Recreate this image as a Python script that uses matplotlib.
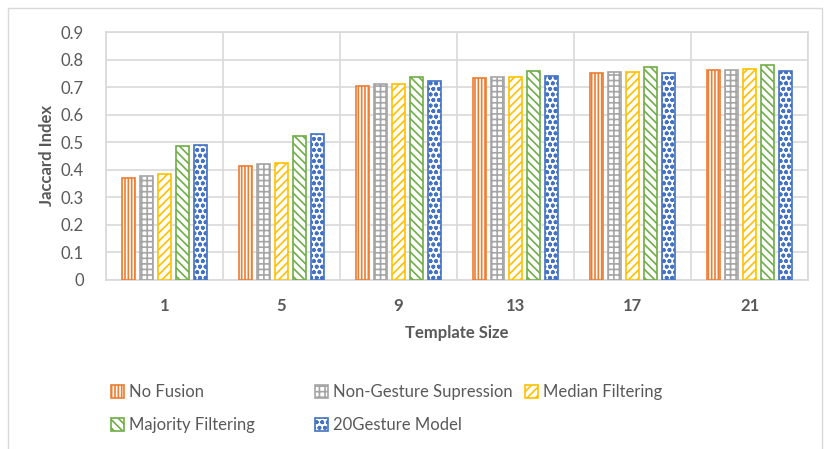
import matplotlib.pyplot as plt
import numpy as np
from matplotlib.patches import Rectangle

plt.rcParams['font.family'] = ['Lato', 'DejaVu Sans']
plt.rcParams['hatch.linewidth'] = 1.2

sizes = ['1', '5', '9', '13', '17', '21']
series = ['No Fusion', 'Non-Gesture Supression', 'Median Filtering',
          'Majority Filtering', '20Gesture Model']
no_fusion = [0.371, 0.415, 0.704, 0.733, 0.751, 0.762]
non_gesture = [0.377, 0.421, 0.710, 0.735, 0.754, 0.762]
median_filt = [0.383, 0.426, 0.710, 0.735, 0.754, 0.765]
majority_filt = [0.486, 0.524, 0.737, 0.758, 0.772, 0.779]
gesture20 = [0.489, 0.531, 0.722, 0.740, 0.751, 0.757]

values = [no_fusion, non_gesture, median_filt, majority_filt, gesture20]
colors = ['#ED7D31', '#A5A5A5', '#FFC000', '#70AD47', '#4472C4']
hatches = ['|||||', '+++', '////', '\\\\\\\\', 'ooo']

fig = plt.figure(figsize=(8.25, 4.49), dpi=100)
ax = fig.add_axes([106 / 825, 1 - 280 / 449, 702 / 825, 248 / 449])

x = np.arange(len(sizes))
pitch = 0.153
width = 0.114
bars = []
for i, (name, vals) in enumerate(zip(series, values)):
    b = ax.bar(x + (i - 2) * pitch, vals, width, label=name, facecolor='white',
               edgecolor=colors[i], hatch=hatches[i], linewidth=1.2, zorder=3)
    bars.append(b)

ax.set_xlim(-0.5, len(sizes) - 0.5)
ax.set_ylim(0, 0.9)
ax.set_yticks(np.arange(0, 0.91, 0.1))
ax.set_yticklabels(['0'] + [f'{v:.1f}' for v in np.arange(0.1, 0.91, 0.1)])
ax.set_xticks(x)
ax.set_xticklabels(sizes, fontweight='bold')
ax.set_xticks(np.arange(-0.5, len(sizes)), minor=True)
ax.grid(True, axis='y', color='#D9D9D9', linewidth=1.2, zorder=0)
ax.grid(True, axis='x', which='minor', color='#D9D9D9', linewidth=1.2, zorder=0)
ax.tick_params(axis='both', which='both', length=0, colors='#595959', labelsize=12)
ax.tick_params(axis='x', pad=13)
ax.tick_params(axis='y', pad=16)
for s in ax.spines.values():
    s.set_color('#D9D9D9')
    s.set_linewidth(1.2)

ax.set_xlabel('Template Size', fontweight='bold', color='#595959', fontsize=12, labelpad=8)
ax.set_ylabel('Jaccard Index', fontweight='bold', color='#595959', fontsize=12, labelpad=4)

# legend entries laid out row by row on a fixed grid, like the original
leg_x = [111, 315, 525, 111, 315]
leg_y = [392, 392, 392, 425, 425]
for i, name in enumerate(series):
    leg = fig.legend([bars[i]], [name], loc='center left',
                     bbox_to_anchor=(leg_x[i] / 825, 1 - leg_y[i] / 449),
                     frameon=False, fontsize=12, handlelength=0.8, handleheight=0.8,
                     handletextpad=0.3, borderpad=0, borderaxespad=0)
    leg.get_texts()[0].set_color('#595959')

fig.patches.append(Rectangle((8 / 825, -0.01), 814 / 825, 1 - 8 / 449 + 0.01,
                             transform=fig.transFigure, fill=False,
                             edgecolor='#D9D9D9', linewidth=1))

fig.savefig('out.png', dpi=100)
